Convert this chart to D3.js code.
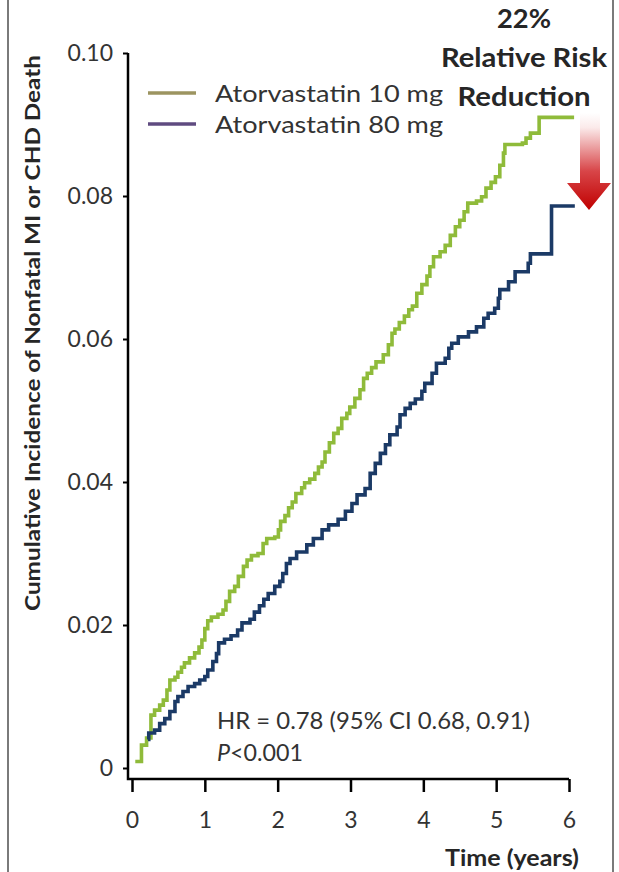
<!DOCTYPE html>
<html>
<head>
<meta charset="utf-8">
<script src="https://cdn.jsdelivr.net/npm/d3@7"></script>
<style>
  html, body { margin: 0; padding: 0; background: #fff; }
  svg { display: block; font-family: Lato, "Open Sans", sans-serif; }
</style>
</head>
<body>
<svg id="chart" width="619" height="872"></svg>
<script>
// Kaplan-Meier style cumulative incidence, step points (years, incidence)
const time10 = [0.045,0.13,0.20,0.26,0.31,0.38,0.43,0.48,0.52,0.59,0.63,0.68,0.72,0.79,0.86,0.92,0.96,1.00,1.04,1.09,1.18,1.25,1.29,1.34,1.41,1.46,1.53,1.58,1.64,1.73,1.80,1.85,1.96,2.01,2.04,2.10,2.15,2.20,2.25,2.33,2.37,2.44,2.51,2.56,2.61,2.65,2.71,2.77,2.83,2.88,2.95,2.99,3.06,3.13,3.18,3.23,3.29,3.35,3.45,3.52,3.57,3.61,3.67,3.74,3.80,3.85,3.91,3.98,4.05,4.09,4.14,4.23,4.30,4.37,4.44,4.50,4.56,4.61,4.73,4.80,4.86,4.93,4.99,5.05,5.10,5.12,5.36,5.41,5.47,5.59,6.07];
const inc10  = [0.0009,0.0032,0.0042,0.0074,0.0081,0.0088,0.0095,0.0109,0.0123,0.0127,0.0134,0.0141,0.0147,0.0154,0.0161,0.0169,0.0179,0.0195,0.0206,0.0211,0.0215,0.0221,0.0233,0.0247,0.0254,0.0268,0.0282,0.0291,0.0297,0.0300,0.0314,0.0321,0.0323,0.0333,0.0345,0.0353,0.0364,0.0372,0.0384,0.0392,0.0399,0.0404,0.0412,0.0421,0.0428,0.0442,0.0455,0.0468,0.0475,0.0489,0.0496,0.0505,0.0517,0.0529,0.0545,0.0552,0.0560,0.0568,0.0578,0.0592,0.0608,0.0614,0.0623,0.0632,0.0641,0.0646,0.0664,0.0676,0.0688,0.0701,0.0715,0.0722,0.0731,0.0745,0.0757,0.0766,0.0778,0.0790,0.0793,0.0799,0.0811,0.0819,0.0827,0.0843,0.0860,0.0872,0.0874,0.0881,0.0888,0.0910,0.0910];

const time80 = [0.22,0.23,0.31,0.38,0.45,0.52,0.59,0.63,0.70,0.77,0.86,0.93,1.00,1.04,1.11,1.16,1.19,1.27,1.36,1.45,1.51,1.62,1.68,1.75,1.81,1.87,1.96,2.03,2.07,2.12,2.17,2.26,2.40,2.49,2.61,2.70,2.83,2.93,3.02,3.09,3.20,3.27,3.34,3.41,3.48,3.54,3.64,3.68,3.75,3.82,3.89,3.98,4.02,4.12,4.18,4.30,4.35,4.39,4.48,4.62,4.73,4.83,4.89,4.98,5.03,5.05,5.17,5.26,5.44,5.47,5.76,6.08];
const inc80  = [0.0040,0.0049,0.0053,0.0062,0.0069,0.0079,0.0093,0.0100,0.0107,0.0114,0.0118,0.0123,0.0128,0.0137,0.0149,0.0160,0.0175,0.0180,0.0185,0.0193,0.0203,0.0208,0.0218,0.0227,0.0236,0.0244,0.0254,0.0261,0.0272,0.0286,0.0293,0.0302,0.0312,0.0321,0.0333,0.0340,0.0348,0.0359,0.0370,0.0382,0.0391,0.0412,0.0426,0.0440,0.0452,0.0466,0.0477,0.0494,0.0503,0.0510,0.0516,0.0527,0.0538,0.0552,0.0566,0.0573,0.0587,0.0594,0.0603,0.0610,0.0617,0.0629,0.0636,0.0643,0.0657,0.0669,0.0680,0.0694,0.0706,0.0719,0.0786,0.0786];

const seriesNames = ["Atorvastatin 10 mg", "Atorvastatin 80 mg"];
const xTickValues = [0, 1, 2, 3, 4, 5, 6];
const yTickValues = [0, 0.02, 0.04, 0.06, 0.08, 0.10];
const yTickLabels = ["0", "0.02", "0.04", "0.06", "0.08", "0.10"];
const statLines = ["HR = 0.78 (95% CI 0.68, 0.91)"];
const calloutLines = ["22%", "Relative Risk", "Reduction"];

const svg = d3.select("#chart");

const x = d3.scaleLinear().domain([0, 6]).range([132, 569]);
const y = d3.scaleLinear().domain([0, 0.10]).range([768, 53]);

const textCol = "#333333";

// outer frame lines
svg.append("line").attr("x1", 8).attr("x2", 8).attr("y1", 0).attr("y2", 872)
  .attr("stroke", "#7a7a7a").attr("stroke-width", 2);
svg.append("line").attr("x1", 613).attr("x2", 613).attr("y1", 0).attr("y2", 872)
  .attr("stroke", "#7a7a7a").attr("stroke-width", 2);

// y axis
const yAxis = d3.axisLeft(y).tickValues(yTickValues)
  .tickFormat((d, i) => yTickLabels[i]).tickSize(5).tickSizeOuter(0).tickPadding(10);
const gy = svg.append("g").attr("transform", "translate(128,0)").call(yAxis);
gy.select(".domain").remove();
gy.selectAll(".tick line").attr("stroke", "#000").attr("stroke-width", 2);
gy.selectAll(".tick text").attr("font-size", 23).attr("fill", textCol)
  .attr("font-family", "Lato, sans-serif").attr("dy", "0.34em");

// x axis
const xAxis = d3.axisBottom(x).tickValues(xTickValues)
  .tickFormat(d3.format("d")).tickSize(13).tickSizeOuter(0).tickPadding(20);
const gx = svg.append("g").attr("transform", "translate(0,779)").call(xAxis);
gx.select(".domain").remove();
gx.selectAll(".tick line").attr("stroke", "#000").attr("stroke-width", 2.5);
gx.selectAll(".tick text").attr("font-size", 23).attr("fill", textCol)
  .attr("font-family", "Lato, sans-serif");

// axis lines
svg.append("path").attr("d", "M128,53 V779 H569")
  .attr("fill", "none").attr("stroke", "#000").attr("stroke-width", 2.5);

// axis titles
svg.append("text")
  .attr("transform", "translate(40,333) rotate(-90)")
  .attr("text-anchor", "middle")
  .attr("font-size", 20.5).attr("font-weight", "bold").attr("fill", "#262626")
  .attr("textLength", 556).attr("lengthAdjust", "spacingAndGlyphs")
  .text("Cumulative Incidence of Nonfatal MI or CHD Death");

svg.append("text")
  .attr("x", 579).attr("y", 866).attr("text-anchor", "end")
  .attr("font-size", 22).attr("font-weight", "bold").attr("fill", "#262626")
  .attr("textLength", 134).attr("lengthAdjust", "spacingAndGlyphs")
  .text("Time (years)");

// step curves
const line = d3.line()
  .x(d => x(d[0])).y(d => y(d[1]))
  .curve(d3.curveStepAfter);

const data10 = time10.map((t, i) => [t, inc10[i]]);
const data80 = time80.map((t, i) => [t, inc80[i]]);

svg.append("path").datum(data10).attr("d", line)
  .attr("fill", "none").attr("stroke", "#8fbb3a").attr("stroke-width", 3.6)
  .attr("stroke-linejoin", "miter");
svg.append("path").datum(data80).attr("d", line)
  .attr("fill", "none").attr("stroke", "#1b3a66").attr("stroke-width", 3.6)
  .attr("stroke-linejoin", "miter");

// legend
const legendColors = ["#9c9460", "#5f4b80"];
const lg = svg.append("g");
seriesNames.forEach((name, i) => {
  const ly = 93 + i * 31;
  lg.append("line").attr("x1", 148).attr("x2", 196).attr("y1", ly).attr("y2", ly)
    .attr("stroke", legendColors[i]).attr("stroke-width", 3.5);
  lg.append("text").attr("x", 215).attr("y", ly + 9)
    .attr("font-size", 23).attr("fill", textCol)
    .attr("textLength", 228).attr("lengthAdjust", "spacingAndGlyphs")
    .text(name);
});

// hazard ratio annotation
svg.append("text").attr("x", 217).attr("y", 729)
  .attr("font-size", 23).attr("fill", textCol)
  .attr("textLength", 313).attr("lengthAdjust", "spacingAndGlyphs")
  .text(statLines[0]);
const pText = svg.append("text").attr("x", 217).attr("y", 761)
  .attr("font-size", 23).attr("fill", textCol)
  .attr("textLength", 86).attr("lengthAdjust", "spacingAndGlyphs");
pText.append("tspan").attr("font-style", "italic").text("P");
pText.append("tspan").text("<0.001");

// relative risk callout
const calloutY = [28, 67, 106];
const calloutW = [54, 166, 133];
calloutLines.forEach((s, i) => {
  svg.append("text").attr("x", 524).attr("y", calloutY[i])
    .attr("text-anchor", "middle")
    .attr("font-size", 27).attr("font-weight", "bold").attr("fill", "#262626")
    .attr("textLength", calloutW[i]).attr("lengthAdjust", "spacingAndGlyphs")
    .text(s);
});

// fading arrow
const defs = svg.append("defs");
const grad = defs.append("linearGradient").attr("id", "arrowGrad")
  .attr("x1", 0).attr("y1", 0).attr("x2", 0).attr("y2", 1);
grad.append("stop").attr("offset", "0%").attr("stop-color", "#ffffff");
grad.append("stop").attr("offset", "15%").attr("stop-color", "#fbeaea");
grad.append("stop").attr("offset", "60%").attr("stop-color", "#d84548");
grad.append("stop").attr("offset", "100%").attr("stop-color", "#c00000");

svg.append("path")
  .attr("d", "M580,113 H600 V183 H611 L589,210 L567,183 H580 Z")
  .attr("fill", "url(#arrowGrad)");
</script>
</body>
</html>
